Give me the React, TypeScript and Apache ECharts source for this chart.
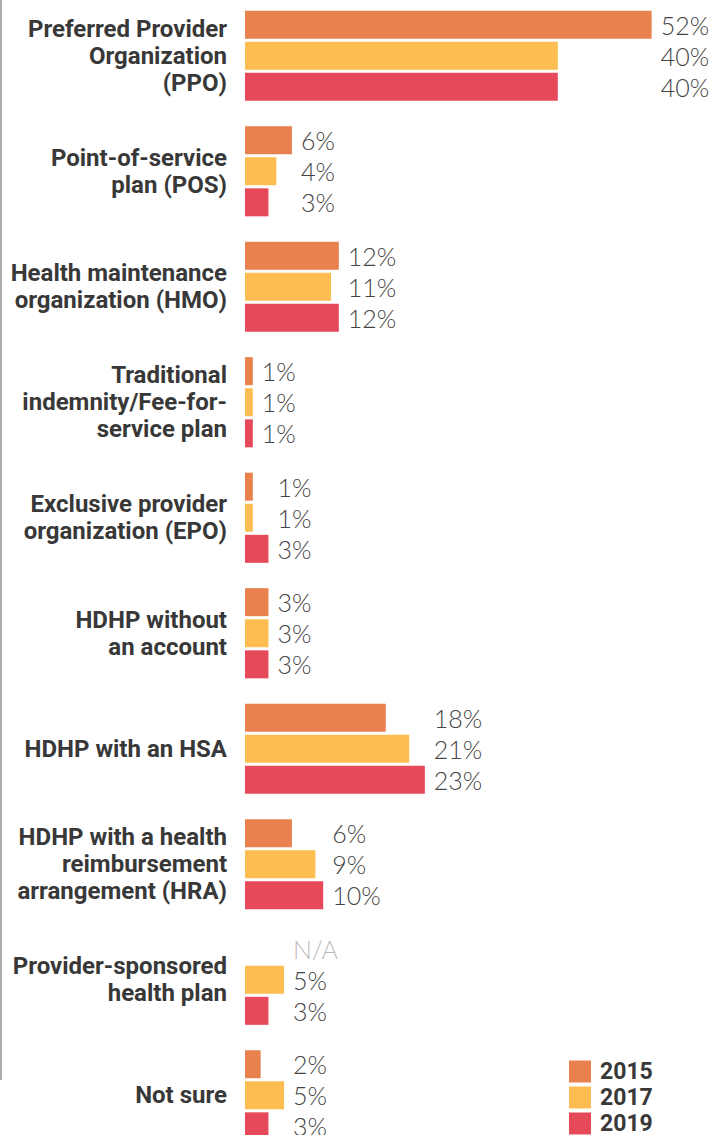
import React, { useEffect, useRef } from "react";
import * as echarts from "echarts";

const categories = [
  "Preferred Provider\nOrganization\n(PPO)",
  "Point-of-service\nplan (POS)",
  "Health maintenance\norganization (HMO)",
  "Traditional\nindemnity/Fee-for-\nservice plan",
  "Exclusive provider\norganization (EPO)",
  "HDHP without\nan account",
  "HDHP with an HSA",
  "HDHP with a health\nreimbursement\narrangement (HRA)",
  "Provider-sponsored\nhealth plan",
  "Not sure",
];
const years = ["2015", "2017", "2019"];
const v2015: (number | null)[] = [52, 6, 12, 1, 1, 3, 18, 6, null, 2];
const v2017: (number | null)[] = [40, 4, 11, 1, 1, 3, 21, 9, 5, 5];
const v2019: (number | null)[] = [40, 3, 12, 1, 3, 3, 23, 10, 3, 3];
const colors = ["#E9814F", "#FDBD51", "#E64A5A"];

export default function App() {
  const ref = useRef<HTMLDivElement>(null);
  useEffect(() => {
    if (!ref.current) return;
    const chart = echarts.init(ref.current, null, { renderer: "svg" });
    const all = [v2015, v2017, v2019];
    const groupMax = categories.map((_, i) =>
      Math.max(...all.map((s) => s[i] ?? 0))
    );
    const series: any[] = [];
    all.forEach((vals, si) => {
      series.push({
        name: years[si],
        type: "bar",
        stack: "s" + si,
        barWidth: 28,
        barGap: "11%",
        silent: true,
        itemStyle: { color: colors[si] },
        data: vals.map((v) => v ?? 0),
      });
    });
    all.forEach((vals, si) => {
      series.push({
        name: "lbl" + years[si],
        type: "bar",
        stack: "s" + si,
        barWidth: 28,
        barGap: "11%",
        silent: true,
        itemStyle: { color: "transparent" },
        data: vals.map((v, i) => ({
          value: groupMax[i] - (v ?? 0),
          label: {
            show: true,
            position: "right",
            distance: 9,
            formatter: v == null ? "N/A" : v + "%",
            color: v == null ? "#BBBBBB" : "#444444",
            fontFamily: "Lato, 'Open Sans', sans-serif",
            fontWeight: 300,
            fontSize: 25,
          },
        })),
      });
    });
    chart.setOption({
      animation: false,
      grid: {
        left: 245,
        top: -2,
        width: 469.2,
        height: 1155,
        outerBoundsMode: "none",
        containLabel: false,
      },
      xAxis: {
        type: "value",
        min: 0,
        max: 60,
        show: false,
      },
      yAxis: {
        type: "category",
        inverse: true,
        data: categories,
        axisLine: { show: false },
        axisTick: { show: false },
        splitLine: { show: false },
        axisLabel: {
          margin: 18,
          color: "#383838",
          fontFamily: "Roboto, sans-serif",
          fontWeight: "bold",
          fontSize: 24,
          lineHeight: 27,
          align: "right",
          padding: [5, 0, 0, 0],
        },
      },
      legend: {
        data: years,
        orient: "vertical",
        left: 569,
        top: 1060,
        itemWidth: 22,
        itemHeight: 22,
        itemGap: 3,
        icon: "rect",
        padding: 0,
        selectedMode: false,
        textStyle: {
          color: "#383838",
          fontFamily: "Roboto, sans-serif",
          fontWeight: "bold",
          fontSize: 23,
          padding: [0, 0, 0, 4],
        },
      },
      graphic: [
        {
          type: "rect",
          shape: { x: 0, y: 0, width: 2, height: 1080 },
          style: { fill: "#ABABAB" },
          silent: true,
        },
      ],
      series,
    });
    return () => chart.dispose();
  }, []);
  return (
    <div
      ref={ref}
      style={{ position: "fixed", left: 0, top: 0, width: 728, height: 1135, background: "#fff" }}
    />
  );
}
